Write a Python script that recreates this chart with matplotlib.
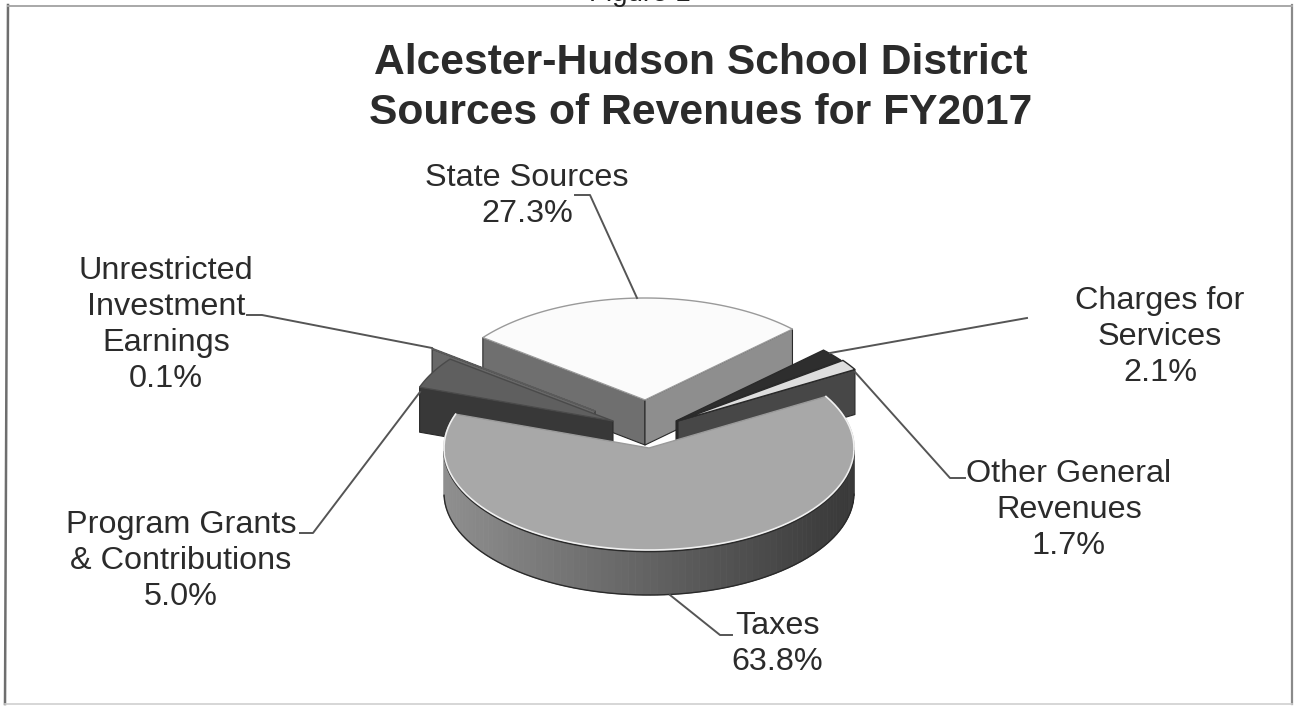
import numpy as np
import matplotlib
matplotlib.use("Agg")
import matplotlib.pyplot as plt
from matplotlib.patches import Polygon

plt.rcParams["font.family"] = ["Liberation Sans", "DejaVu Sans"]

# FY2017 revenue shares, clockwise from the back right of the pie
sources = ["Charges for\nServices", "Other General\nRevenues", "Taxes",
           "Program Grants\n& Contributions", "Unrestricted\nInvestment\nEarnings",
           "State Sources"]
shares = [2.1, 1.7, 63.8, 5.0, 0.1, 27.3]

# slice look: top colour, radial face colour, rim colour left/right, pull-out in px
top_colors = ["#2e2e2e", "#dedede", "#a8a8a8", "#5f5f5f", "#6a6a6a", "#fbfbfb"]
face_colors = ["#262626", "#474747", "#555555", "#383838", "#686868", None]
rim_left = ["#333333", "#4a4a4a", "#8f8f8f", "#3e3e3e", "#686868", "#8a8a8a"]
rim_right = ["#333333", "#4a4a4a", "#383838", "#333333", "#686868", "#8a8a8a"]
top_edges = ["#2a2a2a", "#2a2a2a", "#9a9a9a", "#4a4a4a", "#5a5a5a", "#9a9a9a"]
offsets = [(31, -3), (33, -3), (4, 24), (-32, -3), (-50, -13), (0, -24)]
draw_order = [5, 4, 3, 0, 1, 2]

CX, CY = 645, 424
RX, RY = 205, 102
DEPTH = 45
START = 46.0


def rim_point(cx, cy, angle):
    a = np.radians(angle)
    return cx + RX * np.sin(a), cy - RY * np.cos(a)


def draw_slice(ax, i, a1, a2):
    cx, cy = CX + offsets[i][0], CY + offsets[i][1]
    apex = (cx, cy)
    low = (cx, cy + DEPTH)

    def radial(angle, color):
        p = rim_point(cx, cy, angle)
        ax.add_patch(Polygon([apex, p, (p[0], p[1] + DEPTH), low], closed=True,
                             fc=color, ec="#2a2a2a", lw=0.8, joinstyle="round"))

    # radial faces that look towards the viewer
    if np.sin(np.radians(a1)) < 0:
        color = "#6f6f6f" if i == 5 else face_colors[i]
        radial(a1, color)
    if np.sin(np.radians(a2)) > 0:
        color = "#8e8e8e" if i == 5 else face_colors[i]
        radial(a2, color)

    # outer rim, shaded in short strips along the front half
    angles = np.arange(a1, a2 + 2.0, 2.0)
    angles[-1] = a2
    for b1, b2 in zip(angles[:-1], angles[1:]):
        if np.cos(np.radians((b1 + b2) / 2)) >= 0:
            continue
        p1, p2 = rim_point(cx, cy, b1), rim_point(cx, cy, b2)
        t = (p1[0] - cx + RX) / (2 * RX)
        c = np.array(matplotlib.colors.to_rgb(rim_left[i])) * (1 - t) \
            + np.array(matplotlib.colors.to_rgb(rim_right[i])) * t
        ax.add_patch(Polygon([p1, p2, (p2[0], p2[1] + DEPTH), (p1[0], p1[1] + DEPTH)],
                             closed=True, fc=c, ec=c, lw=0.6))
    # rim outline
    pts = [rim_point(cx, cy, b) for b in np.linspace(a1, a2, 90)
           if np.cos(np.radians(b)) < 0]
    if pts:
        xs = [p[0] for p in pts]
        ys = [p[1] + DEPTH for p in pts]
        ax.plot(xs, ys, color="#2a2a2a", lw=1.0)
        # dark shadow just under the top edge
        ax.plot(xs, [p[1] + 1.5 for p in pts], color="#2a2a2a", lw=1.2)

    # top surface
    arc = [rim_point(cx, cy, b) for b in np.linspace(a1, a2, 90)]
    ax.add_patch(Polygon([apex] + arc, closed=True, fc=top_colors[i], ec=top_edges[i], lw=1.0))
    if i == 2:
        ax.plot([p[0] for p in arc], [p[1] for p in arc], color="#f0f0f0", lw=1.2)


fig = plt.figure(figsize=(12.94, 7.06), dpi=100, facecolor="white")
ax = fig.add_axes([0, 0, 1, 1])
ax.set_xlim(0, 1294)
ax.set_ylim(706, 0)
ax.axis("off")

# chart frame, the edges print unevenly
ax.plot([8, 5], [5, 704], color="#6e6e6e", lw=1.8)
ax.plot([1292, 1292], [5, 704], color="#8a8a8a", lw=1.6)
ax.plot([8, 1292], [5.5, 5.5], color="#a8a8a8", lw=1.4)
ax.plot([5, 1292], [704, 704], color="#cfcfcf", lw=1.2)

# caption above the frame, cut off by the page edge
ax.text(640, 1, "Figure 1", ha="center", va="baseline", fontsize=20, color="#222222")

ax.text(701, 63, "Alcester-Hudson School District", ha="center", va="center",
        fontsize=30.7, fontweight="bold", color="#2b2b2b")
ax.text(701, 113, "Sources of Revenues for FY2017", ha="center", va="center",
        fontsize=30.7, fontweight="bold", color="#2b2b2b")

# slice angles come from the shares
edges = START + np.cumsum([0] + shares) * 3.6
for i in draw_order:
    draw_slice(ax, i, edges[i], edges[i + 1])

# leader lines
leaders = [
    ([830, 1027], [353, 318]),
    ([855, 950, 965], [372, 478, 478]),
    ([670, 720, 732], [595, 635, 635]),
    ([300, 313, 420], [533, 533, 392]),
    ([247, 262, 432], [315, 315, 348]),
    ([575, 590, 637], [195, 195, 298]),
]
for xs, ys in leaders:
    ax.plot(xs, ys, color="#555555", lw=1.4)

# labels with their shares
label_pos = [(1160, 337), (1069, 510), (777, 644), (181, 561), (166, 325), (527, 196)]
for name, share, (x, y) in zip(sources, shares, label_pos):
    ax.text(x, y, f"{name}\n{share:.1f}%", ha="center", va="center", fontsize=23.3,
            color="#2b2b2b", linespacing=1.27)

fig.savefig("out.png", dpi=100)
